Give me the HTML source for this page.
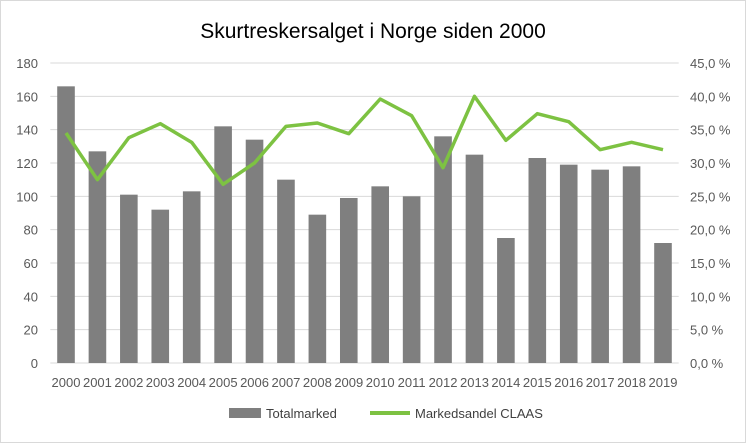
<!DOCTYPE html>
<html><head><meta charset="utf-8"><style>
html,body{margin:0;padding:0;background:#fff;}
svg{display:block;font-family:"Liberation Sans",sans-serif;}
</style></head><body>
<svg id="chart" width="746" height="443">
<rect x="0.5" y="0.5" width="745" height="442" fill="#fff" stroke="#d9d9d9"/>
<text x="373" y="38" text-anchor="middle" font-size="21" fill="#000">Skurtreskersalget i Norge siden 2000</text>
<g id="grid"></g><g id="bars"></g><g id="line"></g><g id="axes"></g>
<g>
<rect x="229" y="408" width="32" height="10" fill="#7f7f7f"/>
<text x="266" y="418" font-size="13" fill="#404040">Totalmarked</text>
<line x1="370" y1="413" x2="410" y2="413" stroke="#7dc242" stroke-width="4"/>
<text x="415" y="418" font-size="13" fill="#404040">Markedsandel CLAAS</text>
</g>
</svg>
<script>
const years=["2000","2001","2002","2003","2004","2005","2006","2007","2008","2009","2010","2011","2012","2013","2014","2015","2016","2017","2018","2019"];
const totalmarked=[166,127,101,92,103,142,134,110,89,99,106,100,136,125,75,123,119,116,118,72];
const andel=[34.5,27.5,33.8,35.9,33.1,26.8,30.0,35.5,36.0,34.4,39.6,37.1,29.3,40.0,33.4,37.4,36.2,32.0,33.1,32.0];
const leftTicks=[0,20,40,60,80,100,120,140,160,180];
const rightTicks=[0,5,10,15,20,25,30,35,40,45];
const NS="http://www.w3.org/2000/svg";
const X0=50.3,X1=678.7,Y0=363,Y1=63;
const bw=(X1-X0)/years.length;
const xc=i=>X0+bw*(i+0.5);
const yL=v=>Y0-(v/180)*(Y0-Y1);
const yR=v=>Y0-(v/45)*(Y0-Y1);
function mk(t,a,p){const e=document.createElementNS(NS,t);for(const k in a)e.setAttribute(k,a[k]);p.appendChild(e);return e;}
const grid=document.getElementById('grid'),axes=document.getElementById('axes');
leftTicks.forEach((v,i)=>{
 const l=mk('line',{x1:X0,x2:X1,y1:yL(v),y2:yL(v),stroke:'#d9d9d9','stroke-width':1},grid);
 
 
 const t=mk('text',{x:38,y:yL(v)+5,'text-anchor':'end','font-size':13,fill:'#595959'},axes);
 t.textContent=v;
 
 
});
rightTicks.forEach(v=>{
 const t=mk('text',{x:690,y:yR(v)+5,'font-size':13,fill:'#595959'},axes);
 t.textContent=v.toFixed(1).replace('.',',')+' %';
 
 
});
const bars=document.getElementById('bars');
years.forEach((y,i)=>{
 const r=mk('rect',{x:xc(i)-8.8,y:yL(totalmarked[i]),width:17.6,height:Y0-yL(totalmarked[i]),fill:'#7f7f7f'},bars);
 
 
 const t=mk('text',{x:xc(i),y:387,'text-anchor':'middle','font-size':13,fill:'#595959'},axes);
 t.textContent=y;
 
 
});
const pl=mk('polyline',{points:andel.map((v,i)=>xc(i)+','+yR(v)).join(' '),fill:'none',stroke:'#7dc242','stroke-width':3.5,'stroke-linejoin':'round'},document.getElementById('line'));


</script>
</body></html>
